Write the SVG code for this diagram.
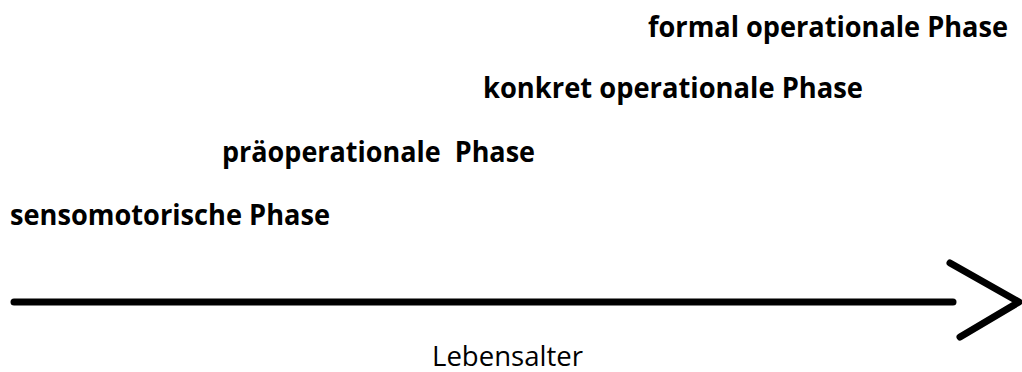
<svg xmlns="http://www.w3.org/2000/svg" width="1022" height="372" viewBox="0 0 1022 372">
<style>
.ph{font-family:"Open Sans","Liberation Sans",sans-serif;font-weight:bold;font-size:28px;fill:#000}
.ax{font-family:"Open Sans","Liberation Sans",sans-serif;font-size:27px;fill:#000}
.ln{stroke:#000;stroke-width:7;stroke-linecap:round;stroke-linejoin:round;fill:none}
</style>
<rect width="1022" height="372" fill="#fff"/>
<g id="connectors">
<line class="ln" x1="14" y1="302" x2="953" y2="302"/>
<polyline class="ln" points="950,263 1019,302 960,337"/>
</g>
<g id="formal"><text class="ph" x="648" y="37" textLength="360" lengthAdjust="spacingAndGlyphs">formal operationale Phase</text></g>
<g id="konkret"><text class="ph" x="483" y="98" textLength="380" lengthAdjust="spacingAndGlyphs">konkret operationale Phase</text></g>
<g id="praeoperational"><text class="ph" x="222" y="162" textLength="313" lengthAdjust="spacingAndGlyphs" xml:space="preserve">präoperationale  Phase</text></g>
<g id="sensomotorisch"><text class="ph" x="10" y="225" textLength="320" lengthAdjust="spacingAndGlyphs">sensomotorische Phase</text></g>
<g id="lebensalter"><text class="ax" x="432" y="366" textLength="151" lengthAdjust="spacingAndGlyphs">Lebensalter</text></g>
</svg>
